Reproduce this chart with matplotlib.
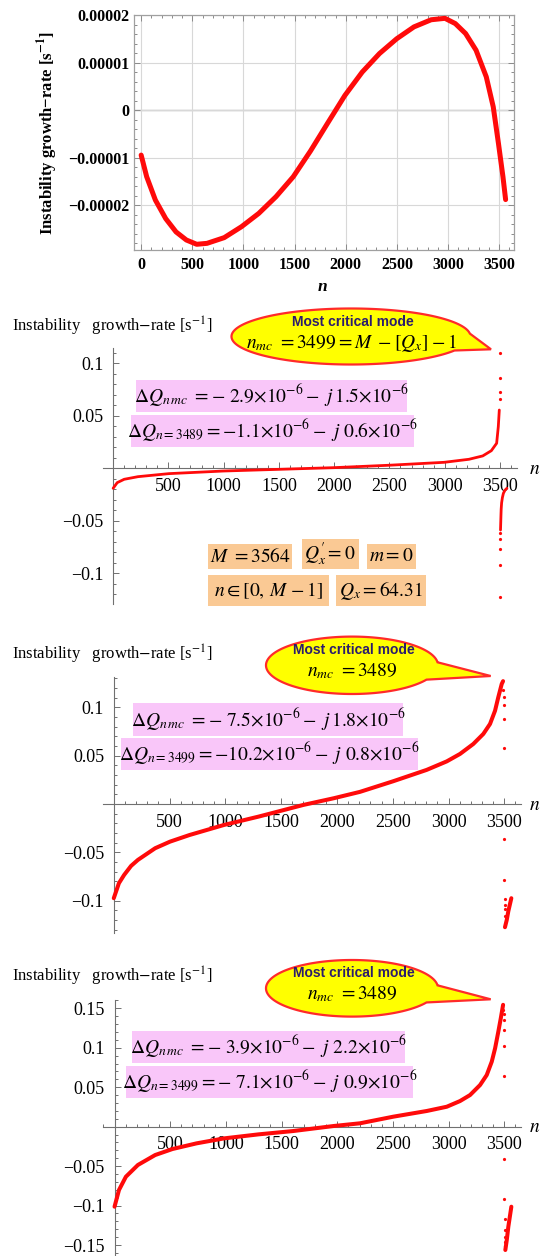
import numpy as np
import matplotlib
matplotlib.use('Agg')
import matplotlib.pyplot as plt
from matplotlib.patches import Rectangle, Polygon
from matplotlib.ticker import MultipleLocator

plt.rcParams['mathtext.fontset'] = 'stix'
plt.rcParams['font.family'] = ['Liberation Serif', 'DejaVu Serif']

# ---------------- data ----------------
# Panel 1 (growth rate, units of 1e-5 s^-1)
p1_n = [0, 54, 139, 240, 341, 442, 543, 644, 812, 981, 1150, 1318, 1487, 1655, 1824,
        1992, 2161, 2330, 2498, 2667, 2835, 2970, 3071, 3172, 3274, 3374, 3442, 3493, 3537, 3563]
p1_rate_e5 = [-0.945, -1.40, -1.89, -2.28, -2.56, -2.73, -2.82, -2.80, -2.68, -2.45, -2.17, -1.82,
              -1.40, -0.86, -0.27, 0.31, 0.80, 1.19, 1.50, 1.75, 1.90, 1.93, 1.82, 1.61, 1.26,
              0.70, 0.07, -0.70, -1.40, -1.88]
p1_xticks = [0, 500, 1000, 1500, 2000, 2500, 3000, 3500]
p1_yticks = [2e-5, 1e-5, 0, -1e-5, -2e-5]
p1_ylabels = ['0.00002', '0.00001', '0', '\u22120.00001', '\u22120.00002']

# Panel 2
p2_main_n = [0, 37, 100, 225, 505, 999, 1497, 1996, 2496, 2995, 3220, 3344, 3422, 3470, 3485, 3494]
p2_main_rate = [-0.0191, -0.0137, -0.0105, -0.0080, -0.0051, -0.0026, -0.0010, 0.0006, 0.0029,
                0.0057, 0.0086, 0.0118, 0.0168, 0.0239, 0.0397, 0.0556]
p2_neg_n = [3505, 3507, 3509, 3511, 3515, 3522, 3531, 3545, 3563]
p2_neg_rate = [-0.0589, -0.052, -0.045, -0.039, -0.033, -0.028, -0.0239, -0.021, -0.0191]
p2_dots_n = [3496, 3497, 3498, 3499, 3500, 3501, 3502, 3503, 3504]
p2_dots_rate = [0.066, 0.073, 0.086, 0.110, -0.1225, -0.0923, -0.0773, -0.0678, -0.062]
p2_yticks = [0.1, 0.05, -0.05, -0.1]
p2_ylabels = ['0.1', '0.05', '\u22120.05', '\u22120.1']

# Panel 3
p3_main_n = [0, 46, 93, 155, 216, 371, 504, 680, 989, 1298, 1700, 1972, 2207, 2505, 2804, 2984,
             3103, 3222, 3312, 3372, 3417, 3446, 3477, 3489]
p3_main_rate = [-0.0975, -0.082, -0.0734, -0.0641, -0.0579, -0.0458, -0.039, -0.0321, -0.0217,
                -0.0131, -0.001, 0.0059, 0.0125, 0.0235, 0.0352, 0.0440, 0.0517, 0.0620, 0.0724,
                0.0827, 0.0964, 0.1103, 0.1241, 0.1270]
p3_neg_n = [3506, 3522, 3536, 3563]
p3_neg_rate = [-0.1275, -0.120, -0.111, -0.0975]
p3_dots_n = [3491, 3493, 3495, 3497, 3499, 3500, 3501, 3502, 3503, 3504, 3505]
p3_dots_rate = [0.118, 0.111, 0.1024, 0.0879, 0.0576, -0.0365, -0.0786, -0.0986, -0.1044, -0.1089, -0.1158]
p3_yticks = [0.1, 0.05, -0.05, -0.1]
p3_ylabels = ['0.1', '0.05', '\u22120.05', '\u22120.1']

# Panel 4
p4_main_n = [0, 40, 102, 210, 365, 520, 737, 984, 1294, 1604, 1969, 2204, 2503, 2803, 2983, 3102,
             3192, 3282, 3342, 3387, 3417, 3446, 3468, 3489]
p4_main_rate = [-0.1014, -0.0802, -0.0634, -0.0485, -0.0359, -0.0283, -0.0211, -0.0148, -0.0097,
                -0.0055, 0.0009, 0.0043, 0.0127, 0.0199, 0.0253, 0.0325, 0.0401, 0.0528, 0.0655,
                0.0824, 0.0993, 0.1204, 0.1373, 0.1545]
p4_neg_n = [3509, 3522, 3536, 3563]
p4_neg_rate = [-0.1563, -0.1436, -0.1267, -0.1014]
p4_dots_n = [3492, 3494, 3495, 3497, 3498, 3499, 3500, 3501, 3502, 3503, 3504, 3505, 3506]
p4_dots_rate = [0.148, 0.143, 0.1352, 0.1226, 0.1027, 0.0643, -0.0409, -0.092, -0.1174, -0.1309,
                -0.1394, -0.1458, -0.1512]
p4_yticks = [0.15, 0.1, 0.05, -0.05, -0.1, -0.15]
p4_ylabels = ['0.15', '0.1', '0.05', '\u22120.05', '\u22120.1', '\u22120.15']

bottom_xticks = [500, 1000, 1500, 2000, 2500, 3000, 3500]
bottom_xlabels = [str(v) for v in bottom_xticks]

# ---------------- figure ----------------
W, H = 541, 1256
fig = plt.figure(figsize=(W / 100, H / 100), dpi=100)
fig.patch.set_facecolor('white')


def px_axes(left, top, right, bottom):
    return fig.add_axes([left / W, 1 - bottom / H, (right - left) / W, (bottom - top) / H])


RED = '#ff0a0a'

# ---- Panel 1 ----
ax1 = px_axes(134, 15, 514, 250)
ax1.plot(p1_n, np.array(p1_rate_e5) * 1e-5, color=RED, lw=3.6,
         solid_capstyle='round', solid_joinstyle='round', zorder=3)
ax1.set_xlim(-70, 3645)
ax1.set_ylim(-2.94e-5, 2.0e-5)
ax1.set_xticks(p1_xticks)
ax1.set_xticklabels([str(v) for v in p1_xticks])
ax1.set_yticks(p1_yticks)
ax1.set_yticklabels(p1_ylabels)
ax1.xaxis.set_minor_locator(MultipleLocator(100))
ax1.yaxis.set_minor_locator(MultipleLocator(2e-6))
ax1.tick_params(which='both', direction='in', top=True, right=True, color='#8a8a8a', width=0.7)
ax1.tick_params(which='major', length=4.5, labelsize=11.5, pad=3.5)
ax1.tick_params(which='minor', length=2.5)
ax1.tick_params(axis='x', which='major', pad=5)
for lab in ax1.get_xticklabels() + ax1.get_yticklabels():
    lab.set_fontweight('bold')
ax1.grid(True, which='major', color='#d8d8d8', lw=0.8, zorder=0)
ax1.axhline(0, color='#808080', lw=0.9, zorder=1)
for s in ax1.spines.values():
    s.set_color('#a0a0a0')
    s.set_linewidth(0.9)


def bottom_panel(box, xlim, ylim, yticks, ylabels, main_n, main_r, neg_n, neg_r, dots_n, dots_r, lw):
    ax = px_axes(*box)
    ax.set_xlim(*xlim)
    ax.set_ylim(*ylim)
    ax.patch.set_visible(False)
    ax.plot(main_n, main_r, color=RED, lw=lw, solid_capstyle='round', solid_joinstyle='round', zorder=3)
    ax.plot(neg_n, neg_r, color=RED, lw=lw, solid_capstyle='round', solid_joinstyle='round', zorder=3)
    ax.plot(dots_n, dots_r, 'o', ms=2.3, color=RED, mec='none', zorder=3)
    for s in ['top', 'right']:
        ax.spines[s].set_visible(False)
    ax.spines['left'].set_position(('data', 0))
    ax.spines['bottom'].set_position(('data', 0))
    for s in ['left', 'bottom']:
        ax.spines[s].set_color('#707070')
        ax.spines[s].set_linewidth(0.8)
    ax.set_xticks(bottom_xticks)
    ax.set_xticklabels(bottom_xlabels)
    ax.set_yticks(yticks)
    ax.set_yticklabels(ylabels)
    ax.xaxis.set_minor_locator(MultipleLocator(100))
    ax.yaxis.set_minor_locator(MultipleLocator(0.01))
    ax.tick_params(which='both', direction='in', color='#707070', width=0.7)
    ax.tick_params(which='major', length=4.5, labelsize=13, pad=7)
    ax.tick_params(which='minor', length=2.5)
    return ax


ax2 = bottom_panel((103.4, 348.3, 517.2, 604), (-88, 3656), (-0.1295, 0.1145), p2_yticks, p2_ylabels,
                   p2_main_n, p2_main_rate, p2_neg_n, p2_neg_rate, p2_dots_n, p2_dots_rate, 2.0)
ax3 = bottom_panel((103.4, 676.7, 520.7, 933.3), (-93, 3647), (-0.1338, 0.1316), p3_yticks, p3_ylabels,
                   p3_main_n, p3_main_rate, p3_neg_n, p3_neg_rate, p3_dots_n, p3_dots_rate, 2.9)
ax4 = bottom_panel((103.4, 1000, 520.7, 1256), (-100, 3647), (-0.1639, 0.1606), p4_yticks, p4_ylabels,
                   p4_main_n, p4_main_rate, p4_neg_n, p4_neg_rate, p4_dots_n, p4_dots_rate, 2.9)

# ---------------- overlay (pixel coordinates) ----------------
ov = fig.add_axes([0, 0, 1, 1], zorder=10)
ov.set_xlim(0, W)
ov.set_ylim(H, 0)
ov.axis('off')
ov.patch.set_visible(False)

# panel 1 labels
ov.text(48, 132.5, 'Instability growth\u2212rate [$\\mathbf{s}^{\\mathbf{-1}}$]', rotation=90,
        ha='center', va='center', fontsize=12, fontweight='bold')
ov.text(322, 287, 'n', ha='center', va='center', fontsize=12.5, fontweight='bold', fontstyle='italic')

ylab = 'Instability   growth$-$rate [s$^{-1}$]'
for yy in (326.7, 654, 976.7):
    ov.text(12, yy, ylab, ha='left', va='center', fontsize=12)
for (xx, yy) in ((529, 469), (529, 805), (529, 1128)):
    ov.text(xx, yy, '$n$', ha='left', va='center', fontsize=14)

PINK = '#f9c6f9'
ORANGE = '#fac994'


def box(x0, y0, x1, y1, color, text, fs=14, dx=0):
    ov.add_patch(Rectangle((x0, y0), x1 - x0, y1 - y0, fc=color, ec='none', zorder=4))
    ov.text((x0 + x1) / 2 + dx, (y0 + y1) / 2, text, ha='center', va='center', fontsize=fs, zorder=6)


def bubble(cx, cy, a, b, tip, line2, t1=6, t2=-30, fs2=14):
    ts = np.radians(np.linspace(t1, 360 + t2, 240))
    pts = np.column_stack([cx + a * np.cos(ts), cy - b * np.sin(ts)])
    pts = np.vstack([pts, [tip]])
    ov.add_patch(Polygon(pts, closed=True, fc='#ffff00', ec='#ff2a2a', lw=1.6, zorder=5))
    ov.text(cx + 2, cy - 15, 'Most critical mode', ha='center', va='center', fontsize=10,
            fontweight='bold', family=['Liberation Sans', 'DejaVu Sans'], color='#2b1c6d', zorder=6)
    ov.text(cx, cy + 6, line2, ha='center', va='center', fontsize=fs2, zorder=6)


# panel 2 annotations
bubble(351, 336.5, 119.5, 28, (491, 349.3), r'$n_{mc}\ = 3499 = M\ - [Q_x] - 1$')
box(136.2, 380, 406.9, 411.7, PINK, r'$\Delta Q_{n\,mc}\ = -\ 2.9{\times}10^{-6} -\ j\,1.5{\times}10^{-6}$')
box(131, 415, 413.8, 446.7, PINK, r'$\Delta Q_{n=3489} = -1.1{\times}10^{-6} -\ j\ 0.6{\times}10^{-6}$')
box(208, 544.3, 292.4, 569.3, ORANGE, r'$M\ = 3564$')
box(301.7, 539.3, 358.6, 569.3, ORANGE, r'$Q^{\prime}_{x} = 0$')
box(366.6, 544.3, 415.5, 569.3, ORANGE, r'$m = 0$')
box(208, 575, 328.6, 605.7, ORANGE, r'$n \in \left[0,\, M\, - 1\right]$')
box(336.2, 575, 425.9, 605.7, ORANGE, r'$Q_x = 64.31$')

# panel 3 annotations
bubble(352, 665.3, 86, 28.7, (490.7, 676), r'$n_{mc}\ = 3489$')
box(132.8, 703.3, 403.4, 735.7, PINK, r'$\Delta Q_{n\,mc}\ = -\ 7.5{\times}10^{-6} -\ j\,1.8{\times}10^{-6}$')
box(121.4, 737.7, 418, 770, PINK, r'$\Delta Q_{n=3499} = -10.2{\times}10^{-6} -\ j\ 0.8{\times}10^{-6}$')

# panel 4 annotations
bubble(352, 988.3, 86, 28.3, (490.7, 999.3), r'$n_{mc}\ = 3489$')
box(132, 1031, 405.2, 1062.7, PINK, r'$\Delta Q_{n\,mc}\ = -\ 3.9{\times}10^{-6} -\ j\ 2.2{\times}10^{-6}$')
box(126.2, 1066, 413.1, 1098.3, PINK, r'$\Delta Q_{n=3499} = -\ 7.1{\times}10^{-6} -\ j\ 0.9{\times}10^{-6}$')

fig.savefig('out.png', dpi=100, facecolor='white')
